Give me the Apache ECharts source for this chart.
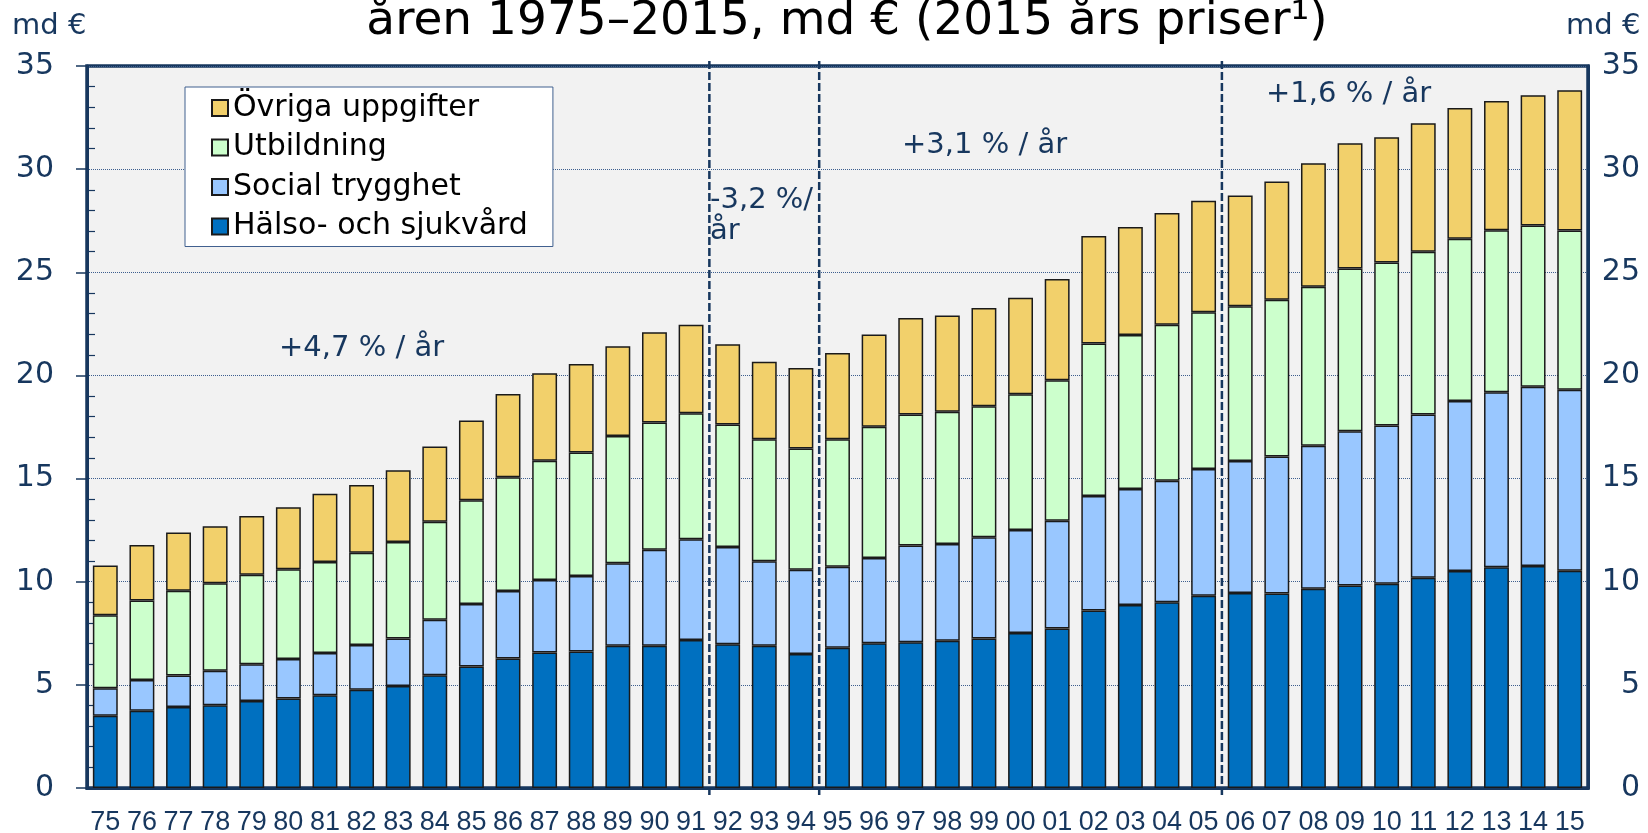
<!DOCTYPE html>
<html>
<head>
<meta charset="utf-8">
<script src="https://cdn.jsdelivr.net/npm/echarts@6/dist/echarts.min.js"></script>
<style>
  html, body { margin: 0; padding: 0; background: #fff; }
  #chart { width: 1648px; height: 833px; }
</style>
</head>
<body>
<div id="chart"></div>
<script>
// år (två siffror)
var years = ['75','76','77','78','79','80','81','82','83','84','85','86','87','88','89','90','91',
  '92','93','94','95','96','97','98','99','00','01','02','03','04','05','06','07','08','09','10',
  '11','12','13','14','15'];

// md €, 2015 års priser
var halso = [3.50,3.74,3.93,4.01,4.22,4.34,4.50,4.76,4.95,5.47,5.89,6.28,6.57,6.62,6.89,6.89,7.17,
  6.97,6.89,6.50,6.80,7.02,7.07,7.14,7.25,7.51,7.73,8.61,8.87,9.01,9.32,9.45,9.43,9.66,9.82,9.90,
  10.19,10.52,10.70,10.76,10.53];
var social = [1.34,1.50,1.52,1.67,1.78,1.91,2.04,2.17,2.30,2.69,3.03,3.27,3.51,3.66,4.00,4.66,4.89,
  4.71,4.10,4.08,3.93,4.13,4.69,4.69,4.90,5.00,5.23,5.55,5.63,5.88,6.14,6.40,6.64,6.93,7.48,7.67,
  7.92,8.24,8.49,8.69,8.78];
var utbildning = [3.53,3.85,4.11,4.24,4.34,4.36,4.41,4.48,4.68,4.75,5.03,5.51,5.78,5.98,6.17,6.17,6.11,
  5.94,5.92,5.88,6.18,6.36,6.35,6.41,6.35,6.58,6.81,7.39,7.46,7.57,7.60,7.50,7.60,7.71,7.88,7.90,
  7.88,7.87,7.85,7.82,7.71];
var ovriga = [2.41,2.69,2.83,2.77,2.85,3.00,3.32,3.28,3.47,3.64,3.87,4.04,4.24,4.29,4.35,4.37,4.29,
  3.89,3.75,3.90,4.18,4.47,4.67,4.67,4.77,4.67,4.91,5.21,5.23,5.42,5.41,5.37,5.73,5.98,6.08,6.08,
  6.24,6.33,6.26,6.31,6.80];

// periodgränser (i kategorienheter, mellan 91|92, 94|95, 05|06)
var dividers = [17, 20, 31];

var navy = '#17375e';
var chart = echarts.init(document.getElementById('chart'));

function barSeries(name, data, color) {
  return {
    name: name,
    type: 'bar',
    stack: 'total',
    data: data,
    barCategoryGap: '32%',
    itemStyle: { color: color, borderColor: '#1a1a1a', borderWidth: 1.5 },
    emphasis: { disabled: true }
  };
}

var option = {
  animation: false,
  textStyle: { fontFamily: 'DejaVu Sans' },
  grid: {
    left: 87, right: 60, top: 66, bottom: 45,
    show: true,
    backgroundColor: '#f2f2f2',
    borderColor: navy,
    borderWidth: 3.5,
    outerBoundsMode: 'none'
  },
  legend: {
    orient: 'vertical',
    left: 185,
    top: 87,
    data: ['Övriga uppgifter', 'Utbildning', 'Social trygghet', 'Hälso- och sjukvård'],
    itemWidth: 16,
    itemHeight: 16,
    itemGap: 9.5,
    padding: [6, 25, 5, 26],
    backgroundColor: '#fff',
    borderColor: '#41608f',
    borderWidth: 1,
    borderRadius: 0,
    icon: 'rect',
    textStyle: { fontFamily: 'DejaVu Sans', fontSize: 30, color: '#000' }
  },
  xAxis: [{
    type: 'category',
    data: years,
    axisLine: { lineStyle: { color: navy, width: 3 } },
    axisTick: { length: 8, lineStyle: { color: navy, width: 1.5 } },
    axisLabel: {
      interval: 0,
      margin: 21,
      fontFamily: 'Liberation Sans',
      fontSize: 27,
      color: navy
    }
  }, {
    type: 'value',
    min: 0,
    max: years.length,
    show: false
  }],
  yAxis: [{
    type: 'value',
    min: 0, max: 35, interval: 5,
    axisLine: { show: true, lineStyle: { color: navy, width: 3 } },
    axisTick: { show: true, length: 11, lineStyle: { color: navy, width: 1.5 } },
    minorTick: { show: true, splitNumber: 5, length: -8, lineStyle: { color: navy, width: 1.2 } },
    axisLabel: { margin: 33, fontFamily: 'DejaVu Sans', fontSize: 30, color: navy },
    splitLine: { lineStyle: { color: '#3d5f8f', type: 'dotted', width: 1 } }
  }, {
    type: 'value',
    position: 'right',
    min: 0, max: 35, interval: 5,
    axisLine: { show: true, lineStyle: { color: navy, width: 3 } },
    axisTick: { show: false },
    axisLabel: { margin: 52, align: 'right', fontFamily: 'DejaVu Sans', fontSize: 30, color: navy },
    splitLine: { show: false }
  }],
  series: [
    barSeries('Hälso- och sjukvård', halso, '#0070c0'),
    barSeries('Social trygghet', social, '#99c7ff'),
    barSeries('Utbildning', utbildning, '#ccffcc'),
    barSeries('Övriga uppgifter', ovriga, '#f2d06b'),
    {
      type: 'custom',
      xAxisIndex: 1,
      yAxisIndex: 0,
      data: dividers,
      clip: false,
      z: 10,
      silent: true,
      renderItem: function (params, api) {
        var bottom = api.coord([api.value(0), 0]);
        var top = api.coord([api.value(0), 35]);
        return {
          type: 'line',
          shape: { x1: bottom[0], y1: bottom[1] + 7, x2: top[0], y2: top[1] - 8 },
          style: { stroke: navy, lineWidth: 2.5, lineDash: [8, 3] }
        };
      }
    }
  ],
  graphic: [
    { type: 'text', x: 847, y: 22, style: { text: 'åren 1975–2015, md € (2015 års priser¹)',
      font: '47px "DejaVu Sans"', fill: '#000', align: 'center', verticalAlign: 'middle' }, z: 20 },
    { type: 'text', x: 12, y: 26, style: { text: 'md €', font: '29px "DejaVu Sans"', fill: navy, verticalAlign: 'middle' } },
    { type: 'text', x: 1566, y: 26, style: { text: 'md €', font: '29px "DejaVu Sans"', fill: navy, verticalAlign: 'middle' } },
    { type: 'text', x: 279, y: 348, style: { text: '+4,7 % / år', font: '29px "DejaVu Sans"', fill: navy, verticalAlign: 'middle' }, z: 20 },
    { type: 'text', x: 710, y: 185, style: { text: '-3,2 %/\når', font: '29px "DejaVu Sans"', lineHeight: 31, fill: navy, verticalAlign: 'top' }, z: 20 },
    { type: 'text', x: 902, y: 145, style: { text: '+3,1 % / år', font: '29px "DejaVu Sans"', fill: navy, verticalAlign: 'middle' }, z: 20 },
    { type: 'text', x: 1266, y: 94, style: { text: '+1,6 % / år', font: '29px "DejaVu Sans"', fill: navy, verticalAlign: 'middle' }, z: 20 }
  ]
};
chart.setOption(option);
</script>
</body>
</html>
